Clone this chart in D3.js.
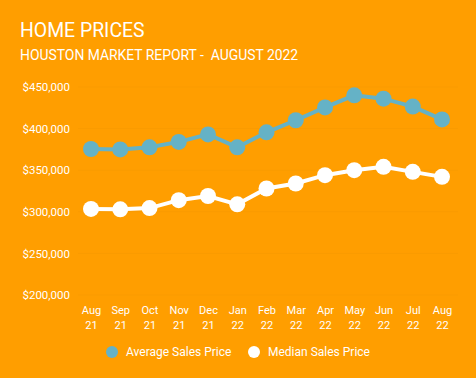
<!DOCTYPE html>
<html><head><meta charset="utf-8">
<script src="https://cdn.jsdelivr.net/npm/d3@7"></script>
<style>body{margin:0;background:#FF9E00;} svg{display:block;font-family:Roboto,sans-serif;} text{white-space:pre;}</style>
</head><body>
<svg id="c" width="476" height="378"></svg>
<script>
const months = ["Aug","Sep","Oct","Nov","Dec","Jan","Feb","Mar","Apr","May","Jun","Jul","Aug"];
const years = ["21","21","21","21","21","22","22","22","22","22","22","22","22"];
const averagePrice = [375500,375000,377500,384000,393000,377500,395500,410000,425500,440000,436000,426500,411000];
const medianPrice = [303500,303000,304500,314000,319000,309000,328000,334000,344000,350000,354000,348000,342000];
const yTicks = [200000,250000,300000,350000,400000,450000];
const seriesNames = ["Average Sales Price","Median Sales Price"];
const colors = ["#65B2C6","#FFFFFF"];

const svg = d3.select("#c");
svg.append("rect").attr("width",476).attr("height",378).attr("fill","#FF9E00");
svg.append("text").attr("x",20).attr("y",37).attr("fill","#fff").attr("font-size",19.4).text("HOME PRICES");
svg.append("text").attr("x",20).attr("y",60).attr("fill","#fff").attr("font-size",13.9).text("HOUSTON MARKET REPORT -  AUGUST 2022");

const x = d3.scalePoint().domain(d3.range(months.length)).range([91,442]);
const y = d3.scaleLinear().domain([200000,450000]).range([295,87]);

const grid = svg.append("g");
grid.selectAll("line").data(yTicks).join("line")
  .attr("x1",78).attr("x2",458).attr("y1",d=>y(d)).attr("y2",d=>y(d))
  .attr("stroke","#FA9B00").attr("stroke-width",1);

const yAxis = svg.append("g").attr("transform","translate(70,0)")
  .call(d3.axisLeft(y).tickValues(yTicks).tickSize(0).tickPadding(0).tickFormat(d=>"$"+d3.format(",")(d)));
yAxis.select(".domain").remove();
yAxis.selectAll("text").attr("fill","#fff").attr("font-size",11.5).attr("font-family","Roboto,sans-serif");

const xAxis = svg.append("g").attr("transform","translate(0,300)")
  .call(d3.axisBottom(x).tickSize(0).tickPadding(0).tickFormat(()=>""));
xAxis.select(".domain").remove();
xAxis.selectAll(".tick text").each(function(i){
  const t = d3.select(this).attr("fill","#fff").attr("font-size",11).attr("font-family","Roboto,sans-serif").attr("dy",null).attr("y",0);
  t.append("tspan").attr("x",0).attr("y",14).text(months[i]);
  t.append("tspan").attr("x",0).attr("y",29).text(years[i]);
});

const line = d3.line().x((d,i)=>x(i)).y(d=>y(d));
[averagePrice, medianPrice].forEach((data,k)=>{
  svg.append("path").datum(data).attr("d",line).attr("fill","none").attr("stroke",colors[k]).attr("stroke-width",4);
  svg.append("g").selectAll("circle").data(data).join("circle")
    .attr("cx",(d,i)=>x(i)).attr("cy",d=>y(d)).attr("r",8).attr("fill",colors[k]);
});

const legX = [112,254];
seriesNames.forEach((n,k)=>{
  svg.append("circle").attr("cx",legX[k]).attr("cy",352).attr("r",6).attr("fill",colors[k]);
  svg.append("text").attr("x",legX[k]+14).attr("y",356).attr("fill","#fff").attr("font-size",12).text(n);
});
</script>
</body></html>
